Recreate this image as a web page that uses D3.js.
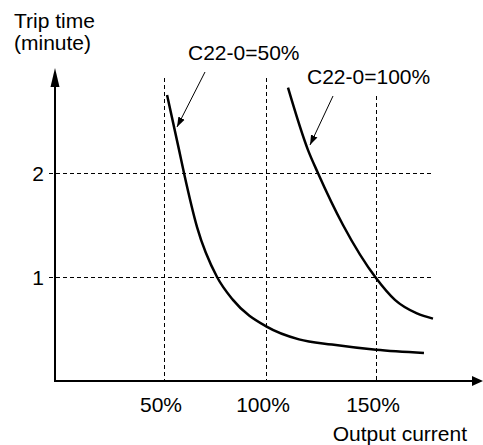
<!DOCTYPE html>
<html><head><meta charset="utf-8">
<script src="https://cdn.jsdelivr.net/npm/d3@7"></script>
<style>html,body{margin:0;padding:0;background:#fff;}svg{display:block;font-family:"Liberation Sans",Arial,sans-serif;}</style>
</head><body>
<svg id="c" width="483" height="445"></svg>
<script>
const xTicks = [50, 100, 150];
const xTickLabels = ["50%", "100%", "150%"];
const yTicks = [1, 2];
const yTickLabels = ["1", "2"];
const curve50Current = [51.5, 57.4, 59.8, 66.2, 76, 83.8, 100.5, 115, 130, 150, 171.8];
const curve50Time    = [2.75, 2.22, 2.0, 1.48, 1.0, 0.78, 0.52, 0.40, 0.35, 0.30, 0.27];
const curve100Current = [110, 119.1, 123.6, 135, 150, 158.6, 168.6, 175.9];
const curve100Time    = [2.82, 2.22, 2.0, 1.5, 0.99, 0.78, 0.65, 0.60];
const labels = ["C22-0=50%", "C22-0=100%"];

const svg = d3.select("#c");
const x = d3.scaleLinear().domain([0, 50, 100, 150]).range([55, 164, 266, 376]);
const y = d3.scaleLinear().domain([0, 2]).range([381, 173]);

const defs = svg.append("defs");
defs.append("marker").attr("id","ah").attr("viewBox","0 0 10 10").attr("refX",10).attr("refY",5)
  .attr("markerWidth",10).attr("markerHeight",10).attr("markerUnits","userSpaceOnUse").attr("orient","auto")
  .append("path").attr("d","M0,1.5L10,5L0,8.5Z").attr("fill","#000");

// grid
const g = svg.append("g").attr("stroke","#000").attr("stroke-width",1).attr("stroke-dasharray","4,3");
yTicks.forEach(t => g.append("line").attr("x1",49).attr("x2",433).attr("y1",y(t)+0.5).attr("y2",y(t)+0.5));
const vTop = [78, 78, 96];
xTicks.forEach((t,i) => g.append("line").attr("x1",x(t)+0.5).attr("x2",x(t)+0.5).attr("y1",vTop[i]).attr("y2",y(0)));

// axes
svg.append("line").attr("x1",x(0)).attr("x2",x(0)).attr("y1",y(0)+1).attr("y2",86).attr("stroke","#000").attr("stroke-width",2);
svg.append("path").attr("d",`M${x(0)},68L${x(0)-4.5},87L${x(0)+4.5},87Z`).attr("fill","#000");
svg.append("line").attr("x1",x(0)).attr("x2",472).attr("y1",y(0)).attr("y2",y(0)).attr("stroke","#000").attr("stroke-width",2);
svg.append("path").attr("d",`M483,${y(0)}L472,${y(0)-5}L472,${y(0)+5}Z`).attr("fill","#000");

// tick labels
const fs = 21;
yTicks.forEach((t,i) => svg.append("text").attr("x",44).attr("y",y(t)).attr("dy","0.36em").attr("text-anchor","end").attr("font-size",fs).text(yTickLabels[i]));
xTicks.forEach((t,i) => svg.append("text").attr("x",x(t)-3).attr("y",412).attr("text-anchor","middle").attr("font-size",fs).text(xTickLabels[i]));

svg.append("text").attr("x",14).attr("y",28).attr("font-size",fs).text("Trip time");
svg.append("text").attr("x",14).attr("y",50).attr("font-size",fs).text("(minute)");
svg.append("text").attr("x",467).attr("y",441).attr("text-anchor","end").attr("font-size",fs).text("Output current");

// curves
const line = d3.line().x(d => x(d[0])).y(d => y(d[1])).curve(d3.curveMonotoneX);
svg.append("path").datum(d3.zip(curve50Current, curve50Time)).attr("d", line)
  .attr("fill","none").attr("stroke","#000").attr("stroke-width",2.5);
svg.append("path").datum(d3.zip(curve100Current, curve100Time)).attr("d", line)
  .attr("fill","none").attr("stroke","#000").attr("stroke-width",2.5);

// annotations
svg.append("text").attr("x",188).attr("y",60).attr("font-size",fs).text(labels[0]);
svg.append("text").attr("x",307).attr("y",84).attr("font-size",fs).text(labels[1]);
svg.append("line").attr("x1",205).attr("y1",72).attr("x2",177).attr("y2",127).attr("stroke","#000").attr("stroke-width",1).attr("marker-end","url(#ah)");
svg.append("line").attr("x1",333).attr("y1",96).attr("x2",310).attr("y2",145).attr("stroke","#000").attr("stroke-width",1).attr("marker-end","url(#ah)");
</script>
</body></html>
